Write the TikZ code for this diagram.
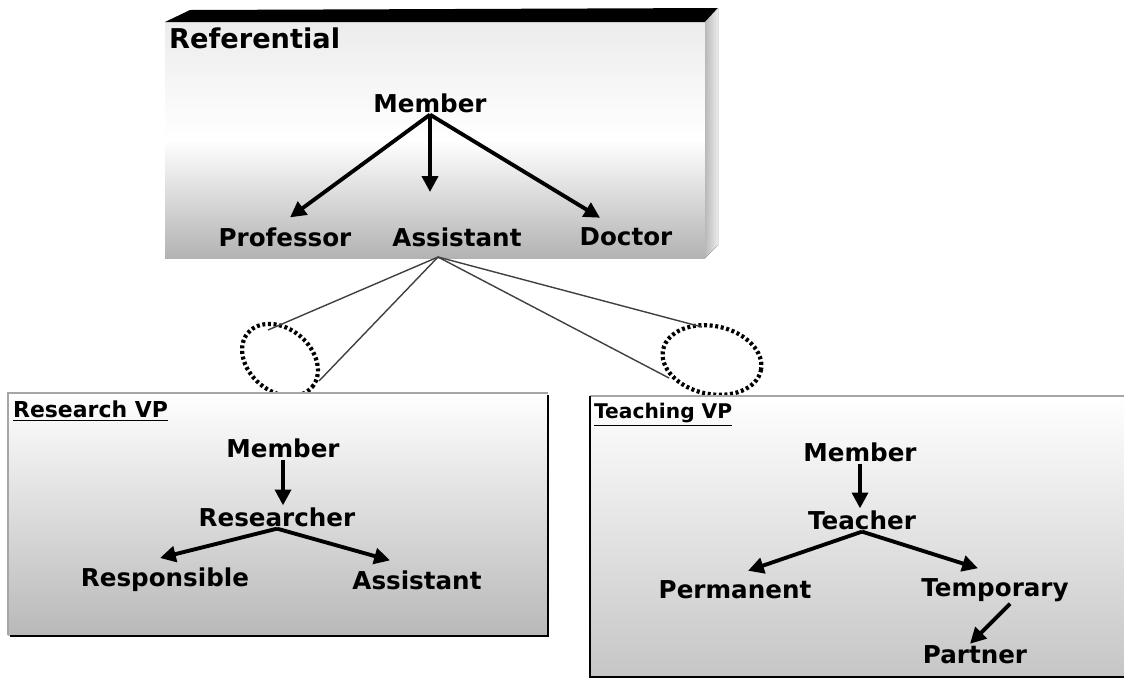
\documentclass[tikz,border=0pt]{standalone}
\usepackage{fontspec}
\setmainfont{DejaVu Sans}
\usetikzlibrary{arrows.meta,positioning,calc,shapes.geometric}

\begin{document}
\begin{tikzpicture}[
  x=0.02cm, y=-0.02cm,
  every node/.style={font=\bfseries\fontsize{14}{16}\selectfont, inner sep=1pt},
  ttl/.style={anchor=north west},
  viewttl/.style={anchor=north west, font=\bfseries\fontsize{12.5}{15}\selectfont},
  arr/.style={-{Triangle[length=9pt,width=9pt]}, line width=2.2pt},
  cone/.style={line width=0.8pt, black!75},
  ring/.style={draw, ellipse, line width=2.4pt, dash pattern=on 1.7pt off 1.5pt},
]
\useasboundingbox (0,0) rectangle (1124,677);

% referential box (3d)
\fill[top color=gray!15, bottom color=gray!60, middle color=white] (165,22) rectangle (705,258);
\fill[black] (165,22) -- (190,10) -- (718,8) -- (705,22) -- cycle;
\fill[left color=gray!55, right color=gray!15] (705,22) -- (718,8) -- (718,245) -- (705,258) -- cycle;

\node[ttl, font=\bfseries\fontsize{15.5}{18}\selectfont] (reftitle) at (167,26) {Referential};
\node (refmember) at (430,103) {Member};
\node (professor) at (285,237) {Professor};
\node (refassist) at (457,237) {Assistant};
\node (doctor)    at (626,237) {Doctor};
\coordinate (refstop) at (refmember.south |- 0,192);
\draw[arr] (refmember.south) -- ($(professor.north)+(5,-8)$);
\draw[arr] (refmember.south) -- (refstop);
\draw[arr] (refmember.south) -- ($(doctor.north)+(-26,-8)$);

% the two views
\coordinate (apex)  at (438,257);
\node[ring, minimum width=1.68cm, minimum height=1.25cm, rotate=-40] (lring) at (280,360) {};
\node[ring, minimum width=2.0cm, minimum height=1.36cm, rotate=-12] (rring) at (712,360) {};
\coordinate (lcone1) at (268,330);
\coordinate (lcone2) at (319,381);
\coordinate (rcone1) at (702,327);
\coordinate (rcone2) at (669,378);
\draw[cone] (apex) -- (lcone1);
\draw[cone] (apex) -- (lcone2);
\draw[cone] (apex) -- (rcone1);
\draw[cone] (apex) -- (rcone2);

% research view
\fill[top color=white, bottom color=gray!55] (8,393) rectangle (548,635);
\draw[gray!70, line width=0.6pt] (8,635) -- (8,393) -- (548,393);
\draw[black, line width=1.6pt] (548,395) -- (548,636) -- (10,636);
\node[viewttl] (restitle) at (11,399) {\underline{Research VP}};
\node (resmember)   at (283,448) {Member};
\node (researcher)  at (277,517) {Researcher};
\node (responsible) at (165,580) {Responsible};
\node (resassist)   at (417,580) {Assistant};
\draw[arr] (resmember.south) -- (resmember.south |- researcher.north);
\draw[arr] (researcher.south) -- ($(responsible.north)+(-5,-8)$);
\draw[arr] (researcher.south) -- ($(resassist.north)+(-27,-8)$);

% teaching view
\fill[top color=white, bottom color=gray!45] (590,396) rectangle (1124,677);
\draw[gray!70, line width=0.6pt] (590,396) -- (1124,396);
\draw[black, line width=1.4pt] (590,396) -- (590,677) -- (1124,677);
\node[viewttl, font=\bfseries\fontsize{11.5}{14}\selectfont] (teachtitle) at (592,401) {\underline{Teaching VP}};
\node (teachmember) at (860,452) {Member};
\node (teacher)     at (862,520) {Teacher};
\node (permanent)   at (735,590) {Permanent};
\node (temporary)   at (995,590) {Temporary};
\node (partner)     at (975,655) {Partner};
\draw[arr] (teachmember.south) -- (teachmember.south |- teacher.north);
\draw[arr] (teacher.south) -- ($(permanent.north)+(13,-8)$);
\draw[arr] (teacher.south) -- ($(temporary.north)+(-17,-8)$);
\draw[arr] ($(temporary.south)+(15,0)$) -- ($(partner.north)+(-5,0)$);
\end{tikzpicture}
\end{document}
